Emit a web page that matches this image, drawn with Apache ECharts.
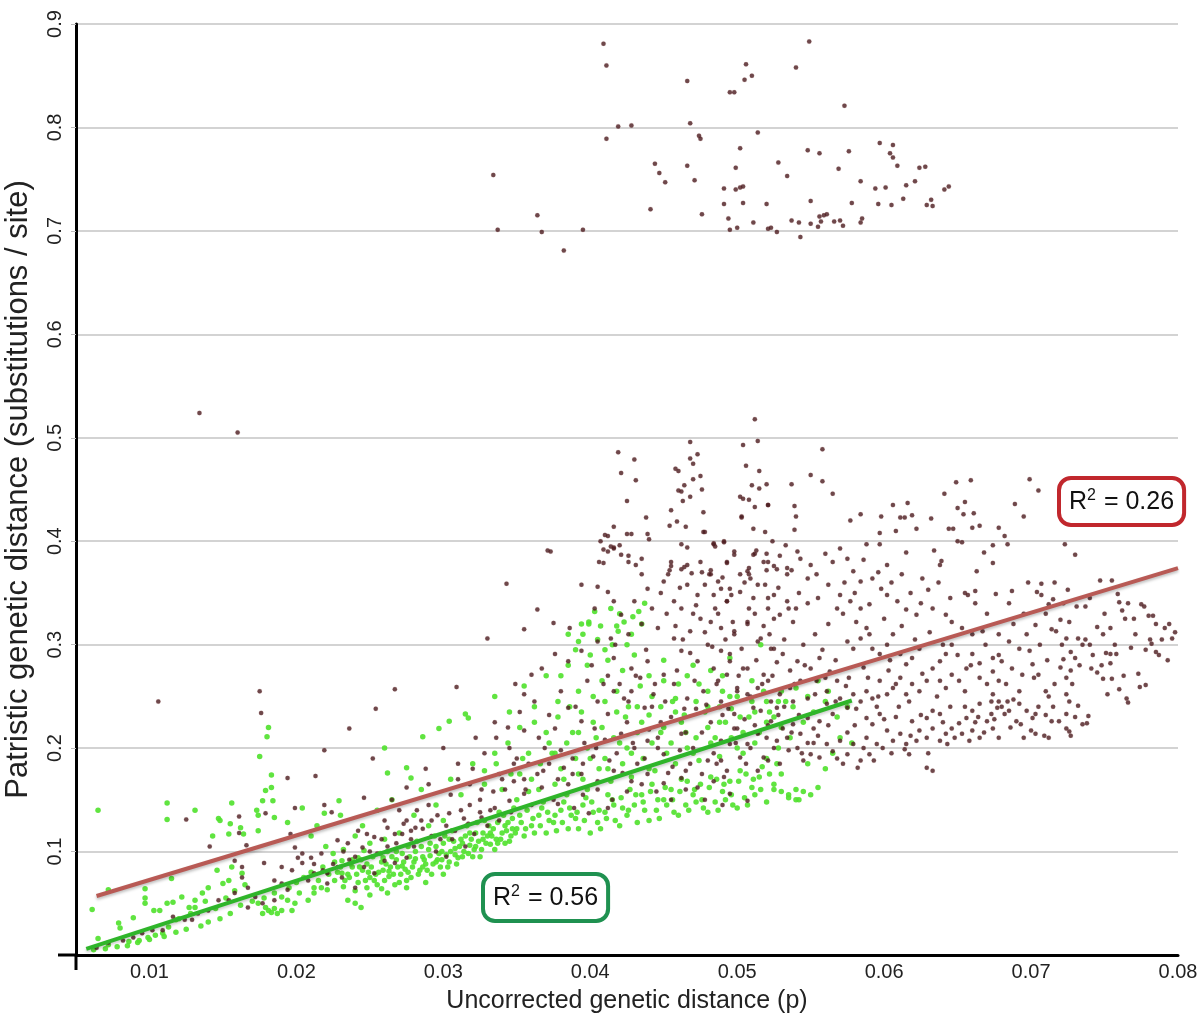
<!DOCTYPE html>
<html>
<head>
<meta charset="utf-8">
<script src="https://cdn.jsdelivr.net/npm/echarts@6/dist/echarts.min.js"></script>
<style>
  html, body { margin: 0; padding: 0; background: #fff; }
  #scatterChart { width: 1197px; height: 1026px; }
</style>
</head>
<body>
<div id="scatterChart"></div>
<script>
// brown points: all pairs (p, patristic)
const brownPoints = [
  // upper cluster
  [0.0409,0.881],[0.0411,0.860],[0.0466,0.845],[0.0419,0.801],[0.0428,0.802],[0.0468,0.804],[0.0411,0.789],[0.0474,0.792],[0.0475,0.789],[0.0334,0.754],[0.0444,0.765],[0.0447,0.756],[0.0451,0.747],[0.0466,0.763],[0.0471,0.749],[0.0441,0.721],[0.0476,0.716],[0.0364,0.715],[0.0337,0.701],[0.0367,0.699],[0.0395,0.701],[0.0382,0.681],
  [0.0549,0.883],[0.0506,0.861],[0.0540,0.858],[0.0505,0.846],[0.0510,0.850],[0.0495,0.834],[0.0498,0.834],[0.0573,0.821],[0.0514,0.795],[0.0502,0.780],[0.0548,0.778],[0.0556,0.775],[0.0576,0.777],[0.0597,0.785],[0.0606,0.783],[0.0604,0.775],[0.0606,0.771],[0.0609,0.763],[0.0624,0.761],[0.0628,0.762],[0.0499,0.761],[0.0528,0.766],[0.0534,0.753],[0.0569,0.760],[0.0491,0.741],[0.0499,0.740],[0.0502,0.742],[0.0504,0.743],[0.0584,0.748],[0.0594,0.741],[0.0601,0.742],[0.0615,0.744],[0.0621,0.748],[0.0641,0.740],[0.0644,0.743],[0.0491,0.726],[0.0504,0.727],[0.0520,0.726],[0.0550,0.729],[0.0578,0.727],[0.0596,0.726],[0.0605,0.725],[0.0613,0.731],[0.0629,0.725],[0.0632,0.730],[0.0633,0.724],[0.0494,0.712],[0.0511,0.708],[0.0495,0.701],[0.0500,0.703],[0.0521,0.702],[0.0523,0.703],[0.0527,0.699],[0.0537,0.710],[0.0542,0.708],[0.0543,0.694],[0.0550,0.707],[0.0555,0.704],[0.0556,0.714],[0.0557,0.709],[0.0559,0.715],[0.0561,0.716],[0.0566,0.709],[0.0570,0.710],[0.0572,0.705],[0.0584,0.708],[0.0585,0.712],
  // left outliers
  [0.0134,0.524],[0.0160,0.505],[0.0106,0.245],[0.0175,0.255],[0.0176,0.234],[0.0267,0.257],[0.0254,0.238],[0.0236,0.219],[0.0219,0.198],[0.0309,0.259],
  // 0.37 - 0.52 band
  [0.0512,0.518],[0.0514,0.497],[0.0504,0.493],[0.0468,0.496],[0.0419,0.486],[0.0430,0.479],[0.0421,0.466],[0.0431,0.459],[0.0468,0.480],[0.0473,0.484],[0.0470,0.475],[0.0458,0.470],[0.0460,0.468],[0.0470,0.460],[0.0475,0.463],[0.0464,0.454],[0.0476,0.450],[0.0460,0.449],[0.0462,0.448],[0.0468,0.443],[0.0463,0.439],[0.0506,0.473],[0.0515,0.468],[0.0510,0.454],[0.0515,0.451],[0.0520,0.455],[0.0537,0.455],[0.0502,0.443],[0.0504,0.441],[0.0508,0.440],[0.0512,0.433],[0.0521,0.435],[0.0539,0.434],[0.0425,0.439],[0.0455,0.430],[0.0477,0.428],[0.0503,0.423],[0.0438,0.423],[0.0454,0.415],[0.0459,0.419],[0.0465,0.414],[0.0416,0.414],[0.0511,0.412],[0.0519,0.409],[0.0539,0.411],[0.0478,0.409],[0.0410,0.406],[0.0412,0.405],[0.0425,0.407],[0.0428,0.407],[0.0439,0.407],[0.0440,0.402],[0.0407,0.400],[0.0491,0.400],[0.0484,0.398],[0.0485,0.395],[0.0462,0.397],[0.0466,0.394],[0.0524,0.400],[0.0533,0.396],[0.0371,0.391],[0.0373,0.390],[0.0409,0.392],[0.0412,0.390],[0.0414,0.395],[0.0416,0.394],[0.0420,0.396],[0.0426,0.386],[0.0435,0.383],[0.0409,0.379],[0.0431,0.377],[0.0498,0.387],[0.0511,0.387],[0.0513,0.391],[0.0520,0.388],[0.0529,0.386],[0.0493,0.379],[0.0455,0.376],[0.0454,0.372],[0.0462,0.373],[0.0464,0.375],[0.0466,0.377],[0.0469,0.369],[0.0476,0.370],[0.0482,0.372],[0.0481,0.368],[0.0508,0.374],[0.0508,0.368],[0.0520,0.372],[0.0525,0.376],[0.0534,0.374],[0.0537,0.372],
  // right spread
  [0.0558,0.489],[0.0550,0.464],[0.0558,0.458],[0.0649,0.457],[0.0659,0.459],[0.0699,0.460],[0.0705,0.449],[0.0565,0.446],[0.0641,0.446],[0.0655,0.438],[0.0689,0.436],[0.0695,0.424],[0.0606,0.435],[0.0616,0.437],[0.0611,0.423],[0.0614,0.423],[0.0619,0.425],[0.0598,0.424],[0.0584,0.426],[0.0577,0.420],[0.0650,0.432],[0.0654,0.426],[0.0661,0.427],[0.0632,0.422],[0.0540,0.424],[0.0503,0.424],[0.0521,0.435],[0.0597,0.408],[0.0608,0.410],[0.0622,0.412],[0.0644,0.412],[0.0647,0.412],[0.0660,0.413],[0.0665,0.415],[0.0678,0.413],[0.0682,0.405],[0.0650,0.400],[0.0653,0.399],[0.0684,0.397],[0.0723,0.397],[0.0730,0.387],[0.0668,0.389],[0.0674,0.396],[0.0663,0.371],[0.0674,0.379],[0.0586,0.382],[0.0615,0.389],[0.0634,0.391],[0.0639,0.381],[0.0638,0.377],[0.0602,0.377],[0.0626,0.364],[0.0612,0.368],[0.0630,0.353],[0.0716,0.360],[0.0725,0.353],[0.0747,0.362],[0.0755,0.362],[0.0698,0.360],[0.0707,0.359],[0.0704,0.351],[0.0707,0.348],[0.0687,0.352],[0.0676,0.349],[0.0662,0.352],[0.0655,0.350],[0.0657,0.348],[0.0712,0.339],[0.0715,0.344],[0.0731,0.337],[0.0737,0.337],[0.0759,0.349],[0.0760,0.341],[0.0775,0.339],[0.0777,0.337],[0.0762,0.333],[0.0764,0.325],[0.0770,0.325],[0.0780,0.328],[0.0783,0.328],[0.0794,0.320],[0.0791,0.316],[0.0796,0.306],[0.0781,0.305],[0.0782,0.301],[0.0785,0.293],[0.0787,0.290],[0.0768,0.297],[0.0754,0.316],[0.0749,0.310],[0.0745,0.317],[0.0732,0.306],[0.0737,0.305],[0.0740,0.300],[0.0735,0.300],[0.0724,0.306],[0.0720,0.324],[0.0726,0.322],[0.0714,0.315],[0.0717,0.313],[0.0703,0.319],[0.0751,0.292],[0.0754,0.291],[0.0758,0.291],[0.0754,0.282],[0.0741,0.277],[0.0745,0.273],[0.0749,0.267],[0.0727,0.293],[0.0730,0.287],[0.0722,0.286],[0.0720,0.278],[0.0727,0.275],[0.0724,0.268],[0.0773,0.272],[0.0778,0.261],[0.0774,0.259],[0.0760,0.257],[0.0765,0.248],[0.0766,0.244],[0.0752,0.252],[0.0755,0.267],[0.0710,0.255],[0.0712,0.250],[0.0724,0.252],[0.0726,0.245],[0.0732,0.241],[0.0724,0.233],[0.0724,0.219],[0.0726,0.216],[0.0727,0.212],[0.0719,0.226],[0.0703,0.233],[0.0710,0.232],[0.0714,0.226],[0.0735,0.223],[0.0738,0.224],[0.0739,0.231],[0.0692,0.243],[0.0697,0.236],[0.0701,0.229],[0.0690,0.226],[0.0693,0.223],[0.0700,0.217],[0.0684,0.245],[0.0688,0.247],[0.0685,0.236],[0.0682,0.233],[0.0703,0.214],[0.0709,0.212],[0.0712,0.210],[0.0674,0.252],[0.0678,0.245],[0.0677,0.239],[0.0673,0.233],[0.0670,0.226],[0.0674,0.219],[0.0678,0.210],[0.0665,0.243],[0.0660,0.236],[0.0656,0.229],[0.0651,0.224],[0.0660,0.217],[0.0665,0.210],[0.0658,0.207],[0.0653,0.214],[0.0646,0.219],[0.0642,0.214],[0.0638,0.207],[0.0643,0.204],[0.0633,0.219],[0.0629,0.210],[0.0624,0.217],[0.0622,0.207],[0.0633,0.236],[0.0638,0.233],[0.0629,0.229],[0.0619,0.226],[0.0615,0.204],[0.0614,0.199],[0.0617,0.194],[0.0611,0.214],[0.0606,0.207],[0.0602,0.217],[0.0599,0.200],[0.0595,0.204],[0.0590,0.194],[0.0586,0.200],[0.0584,0.188],[0.0592,0.223],[0.0597,0.233],[0.0588,0.229],[0.0629,0.181],[0.0633,0.178],[0.0579,0.204],[0.0575,0.194],[0.0582,0.181],[0.0572,0.185],
  [0.0588,0.397],[0.0597,0.397],[0.0570,0.393],[0.0575,0.383],[0.0560,0.388],[0.0565,0.380],[0.0543,0.383],[0.0550,0.377],[0.0554,0.368],[0.0579,0.371],[0.0584,0.361],[0.0592,0.364],[0.0598,0.354],[0.0570,0.348],[0.0577,0.342],[0.0584,0.335],[0.0590,0.339],[0.0602,0.348],[0.0609,0.342],[0.0615,0.334],[0.0622,0.329],[0.0633,0.335],[0.0642,0.329],[0.0646,0.322],[0.0653,0.316],[0.0660,0.310],[0.0667,0.313],[0.0678,0.310],[0.0685,0.303],[0.0692,0.296],[0.0699,0.294],[0.0674,0.287],[0.0680,0.284],[0.0687,0.277],[0.0694,0.271],[0.0701,0.281],[0.0705,0.271],[0.0660,0.291],[0.0665,0.282],[0.0656,0.277],[0.0646,0.300],[0.0642,0.291],[0.0638,0.284],[0.0633,0.277],[0.0624,0.296],[0.0619,0.287],[0.0615,0.281],[0.0611,0.291],[0.0606,0.310],[0.0602,0.300],[0.0597,0.291],[0.0592,0.296],[0.0588,0.316],[0.0584,0.306],[0.0579,0.296],[0.0575,0.303],[0.0646,0.271],[0.0651,0.265],[0.0642,0.258],[0.0638,0.265],[0.0629,0.265],[0.0624,0.255],[0.0619,0.262],[0.0615,0.252],[0.0611,0.268],[0.0606,0.258],[0.0602,0.252],[0.0597,0.265],[0.0592,0.248],[0.0588,0.255],[0.0584,0.245],[0.0579,0.252],[0.0575,0.239],[0.0570,0.248],[0.0565,0.233],[0.0561,0.243],[0.0556,0.226],[0.0552,0.219],[0.0548,0.229],[0.0543,0.214],[0.0561,0.204],[0.0565,0.197],[0.0556,0.191],[0.0570,0.207],[0.0550,0.194],[0.0545,0.188],[0.0541,0.200],[0.0674,0.274],[0.0678,0.265],[0.0670,0.262],[0.0665,0.268],
  [0.0484,0.348],[0.0493,0.342],[0.0502,0.351],[0.0511,0.345],[0.0521,0.335],[0.0525,0.348],[0.0529,0.329],[0.0534,0.342],[0.0538,0.322],[0.0482,0.322],[0.0489,0.316],[0.0498,0.310],[0.0507,0.320],[0.0516,0.306],[0.0523,0.296],[0.0531,0.291],[0.0541,0.284],[0.0550,0.277],[0.0556,0.287],[0.0563,0.274],[0.0568,0.265],[0.0561,0.255],[0.0554,0.265],[0.0543,0.265],[0.0536,0.258],[0.0529,0.252],[0.0538,0.245],[0.0521,0.265],[0.0514,0.258],[0.0507,0.252],[0.0500,0.258],[0.0493,0.271],[0.0487,0.265],[0.0495,0.284],[0.0504,0.277],[0.0516,0.236],[0.0523,0.226],[0.0531,0.219],[0.0527,0.239],[0.0538,0.223],[0.0534,0.210],[0.0525,0.200],[0.0521,0.188],[0.0514,0.214],[0.0507,0.204],[0.0502,0.191],[0.0498,0.219],[0.0489,0.188],[0.0493,0.178],[0.0495,0.204],[0.0480,0.300],[0.0489,0.294],
  [0.0477,0.409],[0.0484,0.397],[0.0491,0.399],[0.0493,0.380],[0.0502,0.368],[0.0509,0.364],[0.0512,0.388],[0.0521,0.380],[0.0527,0.373],[0.0534,0.368],[0.0541,0.390],[0.0548,0.364],[0.0487,0.361],[0.0495,0.354],
  [0.0452,0.330],[0.0458,0.318],[0.0463,0.305],[0.0468,0.292],[0.0472,0.338],[0.0478,0.312],[0.0483,0.298],[0.0487,0.330],[0.0492,0.305],[0.0497,0.322],[0.0503,0.296],[0.0508,0.335],[0.0513,0.285],[0.0518,0.318],[0.0522,0.310],[0.0527,0.283],[0.0532,0.305],[0.0536,0.275],[0.0540,0.335],[0.0545,0.300],[0.0548,0.248],[0.0553,0.310],[0.0558,0.295],[0.0562,0.320],[0.0567,0.285],[0.0572,0.330],[0.0576,0.268],[0.0581,0.322],[0.0586,0.278],[0.0590,0.310],[0.0595,0.240],[0.0600,0.325],[0.0604,0.285],[0.0608,0.230],[0.0612,0.318],[0.0617,0.245],[0.0621,0.305],[0.0626,0.272],[0.0631,0.312],[0.0636,0.250],[0.0640,0.300],[0.0645,0.240],[0.0650,0.290],[0.0655,0.255],[0.0659,0.280],[0.0664,0.230],[0.0669,0.300],[0.0673,0.245],[0.0678,0.290],[0.0683,0.262],[0.0688,0.320],[0.0692,0.255],[0.0697,0.310],[0.0702,0.268],[0.0706,0.300],[0.0711,0.285],[0.0716,0.262],[0.0721,0.300],[0.0728,0.262],[0.0733,0.280],[0.0742,0.290],[0.0748,0.280],[0.0757,0.300],[0.0763,0.270],[0.0771,0.310],[0.0778,0.295],[0.0789,0.305],[0.0793,0.285],[0.0798,0.312],
  [0.0455,0.230],[0.0465,0.215],[0.0472,0.238],[0.0482,0.225],[0.0490,0.232],[0.0505,0.228],[0.0512,0.222],[0.0520,0.210],[0.0528,0.232],[0.0535,0.198],[0.0542,0.232],[0.0548,0.205],[0.0555,0.212],[0.0562,0.222],[0.0568,0.190],[0.0575,0.215],[0.0580,0.222],[0.0588,0.210],[0.0593,0.188],[0.0600,0.228],[0.0605,0.195],[0.0610,0.240],[0.0618,0.212],[0.0625,0.232],[0.0630,0.195],[0.0640,0.225],[0.0648,0.210],[0.0655,0.240],[0.0662,0.225],[0.0668,0.215],[0.0675,0.228],[0.0680,0.240],[0.0686,0.220],[0.0695,0.210],[0.0705,0.240],[0.0715,0.240],[0.0730,0.230],
  [0.0442,0.335],[0.0448,0.350],[0.0453,0.368],[0.0461,0.355],[0.0470,0.330],[0.0478,0.358],[0.0485,0.335],[0.0490,0.365],[0.0496,0.348],[0.0505,0.360],[0.0512,0.330],[0.0519,0.358],[0.0528,0.355],[0.0535,0.335],[0.0542,0.350],[0.0548,0.340],[0.0555,0.345],[0.0562,0.358],[0.0568,0.335],[0.0573,0.360],[0.0580,0.350],[0.0596,0.370],[0.0605,0.360],[0.0618,0.350],[0.0625,0.340],[0.0637,0.360],[0.0645,0.345],[0.0662,0.340],[0.0670,0.330],[0.0685,0.340],[0.0695,0.330],[0.0710,0.330],[0.0722,0.340],[0.0740,0.345],[0.0750,0.330],[0.0766,0.340],[0.0785,0.320],
  // central band
  [0.0343,0.359],[0.0364,0.334],[0.0375,0.321],[0.0330,0.306],[0.0355,0.315],[0.0386,0.316],[0.0394,0.358],[0.0405,0.356],[0.0403,0.335],[0.0406,0.380],[0.0416,0.393],[0.0421,0.387],[0.0426,0.380],[0.0412,0.351],[0.0416,0.342],[0.0421,0.329],[0.0430,0.342],[0.0435,0.368],[0.0439,0.354],[0.0450,0.361],[0.0455,0.380],[0.0457,0.342],[0.0462,0.335],[0.0466,0.358],[0.0473,0.348],[0.0475,0.380],[0.0482,0.368],[0.0489,0.354],[0.0493,0.342],[0.0498,0.390],[0.0507,0.371],[0.0514,0.358],[0.0521,0.345],[0.0518,0.380],[0.0525,0.325],[0.0507,0.322],[0.0498,0.313],[0.0475,0.325],[0.0468,0.313],[0.0457,0.306],[0.0446,0.316],[0.0435,0.320],[0.0426,0.310],[0.0414,0.306],[0.0405,0.303],
  [0.0394,0.294],[0.0385,0.284],[0.0376,0.291],[0.0367,0.277],[0.0360,0.271],[0.0349,0.262],[0.0355,0.252],[0.0416,0.287],[0.0428,0.277],[0.0439,0.284],[0.0450,0.271],[0.0462,0.294],[0.0473,0.284],[0.0484,0.277],[0.0495,0.291],[0.0507,0.277],[0.0518,0.271],[0.0525,0.296],[0.0514,0.303],[0.0457,0.262],[0.0466,0.248],[0.0477,0.255],[0.0489,0.245],[0.0500,0.255],[0.0511,0.239],[0.0523,0.245],[0.0498,0.233],[0.0416,0.255],[0.0426,0.245],[0.0437,0.239],[0.0443,0.252],[0.0385,0.239],[0.0394,0.226],[0.0403,0.219],[0.0412,0.233],[0.0376,0.219],[0.0365,0.210],[0.0355,0.217],[0.0369,0.200],[0.0421,0.214],[0.0430,0.200],[0.0439,0.207],[0.0450,0.194],[0.0462,0.214],[0.0470,0.200],[0.0480,0.188],[0.0489,0.207],[0.0500,0.219],[0.0509,0.200],[0.0518,0.191],[0.0527,0.207],
  [0.0401,0.280],[0.0409,0.262],[0.0417,0.300],[0.0423,0.248],[0.0431,0.270],[0.0438,0.295],[0.0444,0.262],[0.0451,0.245],[0.0459,0.275],[0.0464,0.238],[0.0471,0.265],[0.0479,0.242],[0.0486,0.262],[0.0494,0.238],[0.0501,0.270],[0.0509,0.250],[0.0517,0.262],[0.0524,0.270],[0.0532,0.240],[0.0539,0.262],[0.0546,0.280],[0.0553,0.252],[0.0560,0.268],[0.0567,0.245],[0.0574,0.260],[0.0581,0.238],[0.0589,0.268],[0.0596,0.250],[0.0603,0.275],[0.0608,0.262],
  [0.0404,0.200],[0.0413,0.188],[0.0422,0.176],[0.0429,0.205],[0.0437,0.190],[0.0446,0.210],[0.0453,0.176],[0.0461,0.198],[0.0468,0.185],[0.0476,0.215],[0.0484,0.195],[0.0491,0.172],[0.0499,0.205],[0.0506,0.185],[0.0514,0.178],[0.0521,0.222],[0.0529,0.185],[0.0537,0.215],[0.0544,0.195],[0.0552,0.205],
  [0.0382,0.181],[0.0394,0.175],[0.0405,0.168],[0.0416,0.178],[0.0428,0.168],[0.0439,0.175],[0.0450,0.166],[0.0462,0.171],[0.0473,0.162],[0.0484,0.168],[0.0495,0.156],[0.0507,0.149],[0.0367,0.162],[0.0355,0.156],[0.0345,0.149],[0.0335,0.142],[0.0378,0.146],[0.0389,0.142],[0.0399,0.137],[0.0412,0.142],[0.0326,0.133],[0.0317,0.127],[0.0308,0.120],[0.0321,0.117],[0.0304,0.137],[0.0292,0.130],[0.0281,0.123],[0.0272,0.117],
  [0.0285,0.130],[0.0290,0.145],[0.0298,0.112],[0.0305,0.155],[0.0312,0.140],[0.0318,0.165],[0.0325,0.150],[0.0330,0.125],[0.0338,0.175],[0.0342,0.160],[0.0350,0.190],[0.0355,0.170],[0.0360,0.145],[0.0295,0.100],[0.0302,0.095],[0.0315,0.105],[0.0288,0.180],[0.0300,0.200],[0.0322,0.210],[0.0335,0.225],[0.0345,0.200],[0.0290,0.165],[0.0310,0.185],[0.0265,0.150],[0.0270,0.140],[0.0280,0.105],[0.0275,0.162],
  [0.0352,0.235],[0.0362,0.245],[0.0372,0.232],[0.0380,0.255],[0.0390,0.240],[0.0398,0.265],[0.0405,0.245],[0.0412,0.270],[0.0420,0.262],[0.0428,0.255],[0.0434,0.268],[0.0442,0.240],[0.0448,0.225],[0.0372,0.185],[0.0380,0.198],[0.0388,0.190],[0.0396,0.205],[0.0402,0.192],[0.0410,0.208],[0.0418,0.195],[0.0425,0.225],[0.0432,0.185],[0.0440,0.218],[0.0446,0.200],[0.0456,0.182],[0.0465,0.178],[0.0476,0.175],[0.0486,0.185],[0.0340,0.170],[0.0348,0.185],[0.0356,0.160],[0.0364,0.175],[0.0375,0.150],[0.0385,0.165],[0.0395,0.155],[0.0405,0.160],[0.0415,0.150],[0.0425,0.158],[0.0435,0.165],[0.0445,0.158],[0.0455,0.150],[0.0465,0.160],[0.0478,0.150],[0.0490,0.145],[0.0318,0.145],[0.0326,0.160],[0.0332,0.140],[0.0338,0.130],[0.0346,0.138],[0.0320,0.180],[0.0328,0.195],[0.0336,0.210],[0.0344,0.220],[0.0310,0.170],[0.0302,0.125],[0.0292,0.115],[0.0282,0.140],[0.0275,0.130],[0.0268,0.108],[0.0258,0.112],[0.0250,0.100],[0.0240,0.095],[0.0232,0.100],[0.0225,0.088],
  [0.0395,0.185],[0.0388,0.175],[0.0378,0.170],[0.0368,0.178],[0.0358,0.185],[0.0348,0.168],[0.0334,0.158],[0.0325,0.138],[0.0314,0.132],[0.0306,0.112],[0.0296,0.135],[0.0286,0.122],[0.0278,0.112],[0.0262,0.105],[0.0255,0.098],[0.0245,0.104],[0.0236,0.092],[0.0228,0.085],[0.0218,0.082],[0.0212,0.088],
  // lower left
  [0.0141,0.105],[0.0161,0.134],[0.0161,0.118],[0.0125,0.131],[0.0179,0.137],[0.0194,0.171],[0.0213,0.173],[0.0199,0.142],[0.0196,0.117],[0.0219,0.145],[0.0224,0.138],[0.0246,0.152],[0.0252,0.190],[0.0166,0.106],[0.0158,0.091],[0.0163,0.085],[0.0178,0.089],[0.0199,0.104],[0.0201,0.094],[0.0204,0.098],[0.0190,0.085],[0.0197,0.082],[0.0204,0.089],[0.0210,0.094],[0.0217,0.098],[0.0221,0.079],[0.0228,0.111],[0.0235,0.108],[0.0242,0.120],[0.0248,0.117],[0.0253,0.114],[0.0260,0.130],[0.0262,0.123],[0.0267,0.117],[0.0273,0.127],[0.0278,0.120],[0.0163,0.075],[0.0167,0.065],[0.0158,0.060],[0.0154,0.053],[0.0147,0.053],[0.0140,0.043],[0.0133,0.040],[0.0129,0.034],[0.0124,0.034],[0.0116,0.037],[0.0109,0.024],[0.0102,0.024],[0.0095,0.021],[0.0089,0.017],[0.0082,0.014],[0.0072,0.012],[0.0064,0.007],[0.0185,0.053],[0.0177,0.050],[0.0172,0.056],[0.0167,0.046],[0.0208,0.072],[0.0212,0.079],[0.0221,0.069],[0.0231,0.075],[0.0240,0.065],[0.0246,0.085],[0.0253,0.079],[0.0260,0.091],[0.0267,0.089],[0.0275,0.094],[0.0190,0.069],[0.0194,0.063],[0.0185,0.072]
];

const greenPoints = [
  // sparse left
  [0.0065,0.140],[0.0061,0.044],[0.0072,0.063],[0.0112,0.147],[0.0112,0.131],[0.0131,0.140],[0.0115,0.074],[0.0097,0.064],[0.0097,0.055],[0.0097,0.050],[0.0089,0.036],[0.0079,0.031],[0.0080,0.026],[0.0065,0.016],[0.0072,0.010],[0.0103,0.043],[0.0107,0.043],[0.0112,0.050],[0.0116,0.051],[0.0122,0.056],[0.0127,0.046],[0.0131,0.053],[0.0147,0.132],[0.0148,0.130],[0.0155,0.127],[0.0154,0.117],[0.0143,0.115],[0.0146,0.082],[0.0150,0.069],[0.0156,0.147],[0.0162,0.123],[0.0164,0.117],[0.0173,0.140],[0.0174,0.135],[0.0174,0.120],[0.0177,0.149],[0.0179,0.159],[0.0183,0.162],[0.0184,0.149],[0.0181,0.220],[0.0180,0.211],[0.0175,0.192],[0.0183,0.174],[0.0185,0.133],[0.0194,0.128],[0.0204,0.142],[0.0210,0.115],[0.0214,0.125],[0.0219,0.137],[0.0229,0.149],[0.0260,0.200],[0.0262,0.176],[0.0275,0.181],[0.0278,0.171],[0.0286,0.211],
  [0.0156,0.085],[0.0163,0.079],[0.0154,0.072],[0.0140,0.065],[0.0136,0.060],[0.0131,0.046],[0.0118,0.034],[0.0113,0.027],[0.0109,0.021],[0.0104,0.019],[0.0099,0.017],[0.0093,0.014],[0.0086,0.013],
  [0.0174,0.050],[0.0179,0.046],[0.0181,0.043],[0.0185,0.045],[0.0177,0.040],[0.0183,0.041],[0.0187,0.040],[0.0190,0.043],[0.0190,0.056],[0.0194,0.053],[0.0197,0.043],[0.0199,0.050],[0.0208,0.053],[0.0212,0.060],[0.0217,0.065],[0.0221,0.063],[0.0226,0.072],[0.0231,0.079],[0.0235,0.053],[0.0240,0.050],[0.0244,0.046],[0.0231,0.091],[0.0238,0.085],[0.0242,0.094],[0.0246,0.101],
  // dense cluster
  [0.0230,0.085],[0.0235,0.078],[0.0238,0.092],[0.0242,0.070],[0.0245,0.082],[0.0248,0.088],[0.0250,0.075],[0.0252,0.095],[0.0255,0.068],[0.0256,0.080],[0.0258,0.090],[0.0260,0.072],[0.0262,0.100],[0.0264,0.085],[0.0266,0.078],[0.0268,0.092],[0.0270,0.070],[0.0272,0.098],[0.0274,0.083],[0.0276,0.105],[0.0278,0.075],[0.0280,0.090],[0.0282,0.110],[0.0284,0.082],[0.0286,0.095],[0.0288,0.088],[0.0290,0.102],[0.0292,0.078],[0.0294,0.115],[0.0296,0.092],[0.0298,0.085],[0.0300,0.108],[0.0302,0.097],[0.0304,0.090],[0.0306,0.120],[0.0308,0.103],[0.0310,0.094],[0.0312,0.112],[0.0314,0.100],[0.0316,0.125],[0.0318,0.106],[0.0320,0.095],[0.0322,0.118],[0.0324,0.110],[0.0326,0.102],[0.0328,0.130],[0.0330,0.115],[0.0332,0.107],[0.0334,0.122],[0.0336,0.112],[0.0338,0.138],[0.0340,0.118],[0.0342,0.108],[0.0344,0.128],[0.0346,0.115],[0.0348,0.142],[0.0350,0.122],
  [0.0228,0.080],[0.0233,0.072],[0.0237,0.088],[0.0241,0.078],[0.0244,0.092],[0.0247,0.072],[0.0251,0.085],[0.0254,0.078],[0.0257,0.098],[0.0259,0.082],[0.0261,0.088],[0.0263,0.076],[0.0265,0.095],[0.0267,0.068],[0.0269,0.085],[0.0271,0.078],[0.0273,0.090],[0.0275,0.072],[0.0277,0.095],[0.0279,0.085],[0.0281,0.100],[0.0283,0.078],[0.0285,0.105],[0.0287,0.092],[0.0289,0.082],[0.0291,0.096],[0.0293,0.088],[0.0295,0.105],[0.0297,0.098],[0.0299,0.092],[0.0301,0.115],[0.0303,0.085],[0.0305,0.100],[0.0307,0.110],[0.0309,0.088],[0.0311,0.105],[0.0313,0.095],[0.0315,0.115],[0.0317,0.098],[0.0319,0.112],[0.0321,0.102],[0.0323,0.128],[0.0325,0.095],[0.0327,0.118],[0.0329,0.108],[0.0331,0.125],[0.0333,0.115],[0.0335,0.102],[0.0337,0.128],[0.0339,0.112],[0.0341,0.135],[0.0343,0.120],[0.0345,0.110],[0.0347,0.132],[0.0349,0.118],
  [0.0236,0.075],[0.0243,0.085],[0.0249,0.080],[0.0253,0.072],[0.0259,0.094],[0.0263,0.081],[0.0268,0.100],[0.0272,0.086],[0.0276,0.080],[0.0281,0.093],[0.0286,0.085],[0.0291,0.108],[0.0295,0.090],[0.0299,0.100],[0.0304,0.112],[0.0308,0.097],[0.0313,0.108],[0.0318,0.118],[0.0322,0.105],[0.0327,0.112],[0.0332,0.118],[0.0337,0.108],[0.0342,0.125],[0.0347,0.122],
  [0.0240,0.062],[0.0250,0.058],[0.0262,0.060],[0.0275,0.065],[0.0288,0.070],[0.0300,0.078],[0.0248,0.065],[0.0258,0.064],[0.0232,0.066],
  [0.0200,0.070],[0.0205,0.075],[0.0210,0.080],[0.0215,0.072],[0.0218,0.085],[0.0222,0.078],[0.0226,0.090],[0.0202,0.060],[0.0212,0.065],[0.0225,0.098],[0.0220,0.105],[0.0195,0.065],[0.0185,0.060],[0.0178,0.055],[0.0170,0.052],[0.0162,0.048],[0.0155,0.040],[0.0148,0.035],[0.0140,0.032],[0.0135,0.028],[0.0125,0.025],[0.0118,0.022],[0.0110,0.018],[0.0100,0.015],[0.0092,0.012],[0.0085,0.009],[0.0078,0.008],[0.0070,0.006],[0.0062,0.005],[0.0145,0.045],[0.0152,0.055],[0.0158,0.062],[0.0165,0.068],[0.0128,0.040],[0.0120,0.035],[0.0138,0.052],
  [0.0230,0.135],[0.0245,0.125],[0.0255,0.140],[0.0265,0.150],[0.0280,0.135],[0.0285,0.160],[0.0295,0.145],[0.0305,0.170],[0.0312,0.155],[0.0320,0.185],[0.0328,0.165],[0.0335,0.195],[0.0300,0.130],[0.0290,0.125],[0.0270,0.118],[0.0260,0.112],[0.0250,0.108],[0.0240,0.115],[0.0232,0.102],
  // upper wedge
  [0.0414,0.335],[0.0423,0.322],[0.0419,0.313],[0.0407,0.318],[0.0429,0.327],[0.0433,0.332],[0.0437,0.340],[0.0403,0.332],[0.0399,0.320],[0.0394,0.320],[0.0399,0.322],[0.0385,0.310],[0.0392,0.303],[0.0315,0.233],[0.0317,0.229],[0.0304,0.226],[0.0297,0.219],
  [0.0405,0.305],[0.0410,0.295],[0.0418,0.318],[0.0425,0.300],[0.0428,0.310],[0.0435,0.320],[0.0412,0.285],[0.0398,0.280],[0.0390,0.295],[0.0380,0.270],[0.0395,0.310],[0.0420,0.330],
  [0.0335,0.250],[0.0345,0.235],[0.0355,0.260],[0.0362,0.225],[0.0370,0.270],[0.0378,0.245],[0.0385,0.280],[0.0392,0.255],[0.0400,0.290],[0.0408,0.265],[0.0415,0.300],[0.0422,0.275],[0.0430,0.290],[0.0440,0.270],[0.0450,0.285],[0.0460,0.262],[0.0470,0.280],[0.0480,0.255],[0.0490,0.270],[0.0500,0.250],[0.0510,0.265],[0.0520,0.245],[0.0530,0.255],[0.0495,0.287],[0.0516,0.300],
  [0.0352,0.175],[0.0358,0.195],[0.0365,0.160],[0.0372,0.205],[0.0380,0.180],[0.0388,0.215],[0.0395,0.170],[0.0402,0.225],[0.0410,0.190],[0.0418,0.235],[0.0425,0.200],[0.0432,0.215],[0.0440,0.180],[0.0448,0.240],[0.0455,0.205],[0.0462,0.225],[0.0470,0.195],[0.0478,0.235],[0.0485,0.210],[0.0492,0.225],[0.0500,0.200],[0.0508,0.230],[0.0515,0.215],[0.0522,0.235],[0.0530,0.220],[0.0538,0.240],[0.0545,0.225],[0.0552,0.235],[0.0560,0.245],[0.0568,0.230],[0.0575,0.240],
  [0.0340,0.160],[0.0346,0.175],[0.0354,0.190],[0.0360,0.170],[0.0366,0.185],[0.0374,0.195],[0.0382,0.170],[0.0390,0.190],[0.0398,0.200],[0.0404,0.210],[0.0412,0.180],[0.0420,0.205],[0.0428,0.195],[0.0435,0.225],[0.0442,0.205],[0.0450,0.220],[0.0458,0.235],[0.0465,0.215],[0.0472,0.245],[0.0480,0.220],[0.0488,0.240],[0.0495,0.250],[0.0502,0.230],[0.0510,0.245],[0.0518,0.255],[0.0525,0.230],[0.0533,0.245],[0.0540,0.258],[0.0548,0.250],[0.0555,0.265],[0.0562,0.255],[0.0378,0.230],[0.0386,0.240],[0.0394,0.235],[0.0402,0.250],[0.0410,0.245],[0.0418,0.255],[0.0426,0.240],[0.0434,0.260],[0.0442,0.250],[0.0450,0.265],[0.0458,0.248],[0.0466,0.270],[0.0474,0.262],[0.0482,0.275],[0.0490,0.255],[0.0370,0.215],[0.0362,0.240],[0.0352,0.220],[0.0344,0.205],[0.0336,0.185],[0.0328,0.178],
  [0.0376,0.195],[0.0384,0.205],[0.0392,0.215],[0.0400,0.190],[0.0408,0.220],[0.0416,0.210],[0.0424,0.230],[0.0432,0.240],[0.0440,0.232],[0.0448,0.215],[0.0456,0.245],[0.0464,0.232],[0.0472,0.210],[0.0480,0.240],[0.0488,0.225],[0.0496,0.238],[0.0504,0.215],[0.0512,0.235],[0.0520,0.225],[0.0528,0.245],
  // lower band
  [0.0355,0.115],[0.0360,0.125],[0.0365,0.135],[0.0370,0.118],[0.0375,0.128],[0.0380,0.140],[0.0385,0.122],[0.0390,0.132],[0.0395,0.145],[0.0400,0.118],[0.0405,0.128],[0.0410,0.138],[0.0415,0.150],[0.0420,0.125],[0.0425,0.135],[0.0430,0.145],[0.0435,0.155],[0.0440,0.130],[0.0445,0.140],[0.0450,0.150],[0.0455,0.160],[0.0460,0.135],[0.0465,0.145],[0.0470,0.155],[0.0475,0.165],[0.0480,0.138],[0.0485,0.148],[0.0490,0.158],[0.0495,0.168],[0.0500,0.142],[0.0505,0.152],[0.0510,0.162],[0.0515,0.172],[0.0520,0.148],[0.0525,0.160],[0.0530,0.175],[0.0535,0.155],[0.0540,0.150],[0.0545,0.158],[0.0550,0.155],[0.0555,0.162],[0.0548,0.185],[0.0560,0.180],[0.0565,0.195],[0.0570,0.210],[0.0578,0.205],
  [0.0353,0.128],[0.0357,0.140],[0.0362,0.118],[0.0367,0.142],[0.0372,0.130],[0.0377,0.120],[0.0382,0.148],[0.0387,0.135],[0.0392,0.122],[0.0397,0.152],[0.0402,0.138],[0.0407,0.122],[0.0412,0.155],[0.0417,0.130],[0.0422,0.142],[0.0427,0.160],[0.0432,0.128],[0.0437,0.140],[0.0442,0.165],[0.0447,0.132],[0.0452,0.145],[0.0457,0.138],[0.0462,0.170],[0.0467,0.140],[0.0472,0.148],[0.0477,0.142],[0.0482,0.172],[0.0487,0.140],[0.0492,0.150],[0.0497,0.145],[0.0502,0.178],[0.0507,0.145],[0.0512,0.155],[0.0517,0.182],[0.0522,0.175],[0.0527,0.185],
  [0.0352,0.135],[0.0356,0.122],[0.0361,0.132],[0.0366,0.125],[0.0371,0.138],[0.0376,0.135],[0.0381,0.128],[0.0386,0.142],[0.0391,0.138],[0.0396,0.130],[0.0401,0.148],[0.0406,0.140],[0.0411,0.132],[0.0416,0.145],[0.0421,0.152],[0.0426,0.140],[0.0431,0.155],[0.0436,0.148],[0.0441,0.158],[0.0446,0.150],[0.0451,0.162],[0.0456,0.150],[0.0461,0.158],[0.0466,0.168],[0.0471,0.160],[0.0476,0.150],[0.0481,0.162],[0.0486,0.170],[0.0491,0.165],[0.0496,0.155],[0.0501,0.168],[0.0506,0.175],[0.0511,0.170],[0.0516,0.160],
  [0.0350,0.150],[0.0358,0.158],[0.0368,0.148],[0.0376,0.165],[0.0384,0.155],[0.0392,0.175],[0.0398,0.160],[0.0406,0.180],[0.0414,0.168],[0.0422,0.185],[0.0428,0.172],[0.0436,0.190],[0.0444,0.178],[0.0452,0.195],[0.0458,0.185],[0.0466,0.200],[0.0474,0.188],[0.0482,0.205],[0.0488,0.192],[0.0496,0.210],[0.0504,0.195],[0.0512,0.205],[0.0520,0.190],[0.0528,0.200],[0.0536,0.210],
  [0.0525,0.165],[0.0530,0.158],[0.0535,0.152],[0.0540,0.160],[0.0542,0.150]
];

// fitted lines (end points)
const brownFit = [[0.0064, 0.057], [0.0800, 0.374]];
const greenFit = [[0.0057, 0.006], [0.0578, 0.246]];

const brownR2 = 'R{sup|2} = 0.26';
const greenR2 = 'R{sup|2} = 0.56';

const chartInstance = echarts.init(document.getElementById('scatterChart'));

const labelFont = 'Liberation Sans';

function r2Box(text, left, top, border) {
  return {
    type: 'text',
    left: left,
    top: top,
    z: 100,
    style: {
      text: text,
      fontFamily: labelFont,
      fontSize: 25,
      fill: '#111',
      backgroundColor: '#fff',
      borderColor: border,
      borderWidth: 4,
      borderRadius: 10,
      padding: [8, 8, 7, 8],
      rich: {
        sup: { fontSize: 16, fontFamily: labelFont, fill: '#111', verticalAlign: 'top', padding: [0, 1, 12, 0] }
      }
    }
  };
}

const option = {
  animation: false,
  backgroundColor: '#ffffff',
  grid: { left: 76, right: 19, top: 24, bottom: 71, containLabel: false, outerBoundsMode: 'none' },
  xAxis: {
    type: 'value',
    min: 0.005,
    max: 0.08,
    interval: 0.005,
    name: 'Uncorrected genetic distance (p)',
    nameLocation: 'middle',
    nameGap: 34,
    nameTextStyle: { fontFamily: labelFont, fontSize: 25, color: '#222' },
    axisLine: { lineStyle: { color: '#000', width: 3 } },
    axisTick: { show: false },
    splitLine: { show: false },
    axisLabel: {
      fontFamily: labelFont,
      fontSize: 20,
      color: '#222',
      margin: 7,
      formatter: function (v) {
        const k = Math.round(v * 1000);
        if (k % 10 !== 0) return '';
        return (k / 1000).toFixed(2);
      }
    }
  },
  yAxis: {
    type: 'value',
    min: 0,
    max: 0.9,
    interval: 0.1,
    name: 'Patristic genetic distance (substitutions / site)',
    nameLocation: 'middle',
    nameGap: 42,
    nameTextStyle: { fontFamily: labelFont, fontSize: 31, color: '#222' },
    axisLine: { lineStyle: { color: '#000', width: 3 } },
    axisTick: { show: true, length: 5, lineStyle: { color: '#bbb' } },
    splitLine: { lineStyle: { color: '#c4c4c4', width: 1.5 } },
    axisLabel: {
      fontFamily: labelFont,
      fontSize: 20,
      color: '#222',
      rotate: 90,
      margin: 11,
      formatter: function (v) {
        if (v === 0) return '';
        return v.toFixed(1);
      }
    }
  },
  series: [
    {
      name: 'green',
      type: 'scatter',
      data: greenPoints,
      symbolSize: 5.5,
      itemStyle: { color: '#52e230', opacity: 0.92 }
    },
    {
      name: 'brown',
      type: 'scatter',
      data: brownPoints,
      symbolSize: 4.5,
      itemStyle: { color: '#4a1a1e', borderColor: 'rgba(150,90,90,0.35)', borderWidth: 0.6 }
    },
    {
      name: 'brownFit',
      type: 'line',
      data: brownFit,
      symbol: 'none',
      lineStyle: { color: '#b85a55', width: 4, shadowColor: 'rgba(0,0,0,0.25)', shadowBlur: 3, shadowOffsetY: 2 },
      z: 5
    },
    {
      name: 'greenFit',
      type: 'line',
      data: greenFit,
      symbol: 'none',
      lineStyle: { color: '#2fb52a', width: 4, shadowColor: 'rgba(0,0,0,0.2)', shadowBlur: 3, shadowOffsetY: 2 },
      z: 6
    }
  ],
  graphic: [
    // small overhangs of the axes past the origin
    { type: 'line', shape: { x1: 58, y1: 955, x2: 76, y2: 955 }, style: { stroke: '#000', lineWidth: 3 }, z: 50 },
    { type: 'line', shape: { x1: 76, y1: 955, x2: 76, y2: 970 }, style: { stroke: '#000', lineWidth: 3 }, z: 50 },
    r2Box(brownR2, 1057, 476, '#c1272d'),
    r2Box(greenR2, 481, 872, '#1f9150')
  ]
};

chartInstance.setOption(option);
window.onresize = function () {
  chartInstance.resize();
};
</script>
</body>
</html>
